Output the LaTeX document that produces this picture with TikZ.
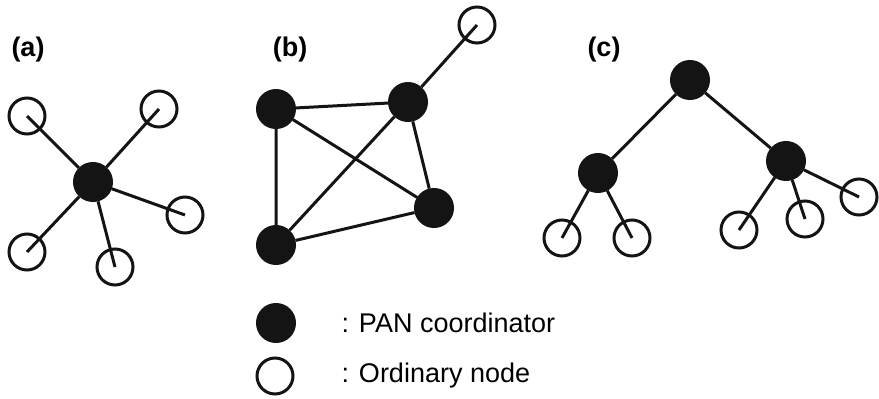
\documentclass[tikz,border=0pt]{standalone}
\usepackage{fontspec}
\setmainfont{Liberation Sans}
\usetikzlibrary{positioning}

\begin{document}
\begin{tikzpicture}[x=1pt,y=-1pt,line width=3pt,
    pan/.style={circle,draw=black!92,fill=black!92,inner sep=0pt,minimum size=37pt},
    ord/.style={circle,draw=black!92,inner sep=0pt,minimum size=36pt},
    lab/.style={font=\fontsize{27}{32}\selectfont\bfseries},
    txt/.style={font=\fontsize{27}{32}\selectfont,anchor=west,inner sep=0pt}]
    \useasboundingbox (0,0) rectangle (879,399);
    % (a) star
    \node[lab] (la) at (28,50) {(a)};
    \node[pan] (a0) at (93,182) {};
    \node[ord] (a1) at (27,116) {};
    \node[ord] (a2) at (159,109) {};
    \node[ord] (a3) at (185,215) {};
    \node[ord] (a4) at (115,267) {};
    \node[ord] (a5) at (27,252) {};
    \path[draw=black!92]
    (a0) -- (a1.center)
    (a0) -- (a2.center)
    (a0) -- (a3.center)
    (a0) -- (a4.center)
    (a0) -- (a5.center)
    ;
    % (b) mesh
    \node[lab] (lb) at (290,50) {(b)};
    \node[pan] (b1) at (276,109) {};
    \node[pan] (b2) at (408,102) {};
    \node[pan] (b3) at (434,208) {};
    \node[pan] (b4) at (276,245) {};
    \node[ord] (b5) at (477,25) {};
    \path[draw=black!92]
    (b1) -- (b2)
    (b1) -- (b4)
    (b1) -- (b3)
    (b2) -- (b4)
    (b2) -- (b3)
    (b4) -- (b3)
    (b2) -- (b5.center)
    ;
    % (c) cluster tree
    \node[lab] (lc) at (604,50) {(c)};
    \node[pan] (c0) at (690,80) {};
    \node[pan] (c1) at (598,173) {};
    \node[pan] (c2) at (786,161) {};
    \node[ord] (c3) at (562,238) {};
    \node[ord] (c4) at (632,238) {};
    \node[ord] (c5) at (739,230) {};
    \node[ord] (c6) at (805,219) {};
    \node[ord] (c7) at (859,197) {};
    \path[draw=black!92]
    (c0) -- (c1)
    (c0) -- (c2)
    (c1) -- (c3.center)
    (c1) -- (c4.center)
    (c2) -- (c5.center)
    (c2) -- (c6.center)
    (c2) -- (c7.center)
    ;
    % legend
    \node[pan] (kp) at (276,323) {};
    \node[ord] (ko) at (275,376) {};
    \node[txt] (tp) at (340,323) {: PAN coordinator};
    \node[txt] (to) at (340,376) {: Ordinary node};
  \end{tikzpicture}
\end{document}
